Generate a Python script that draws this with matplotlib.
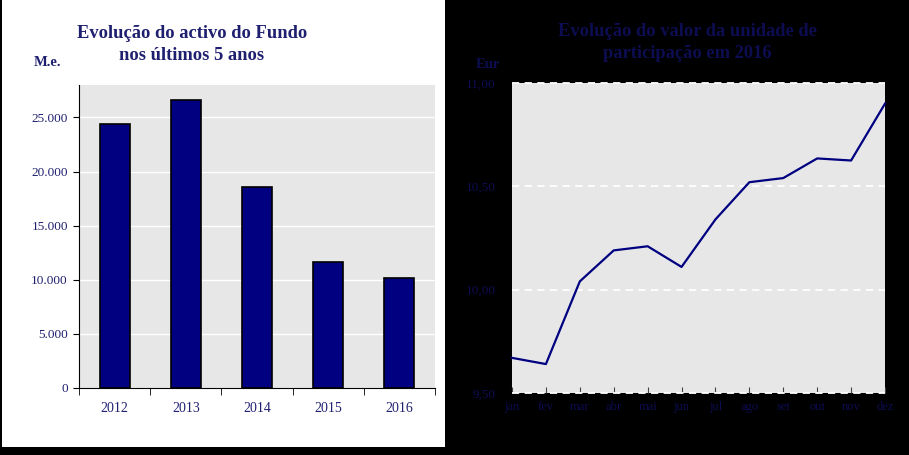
import matplotlib.pyplot as plt
import matplotlib.patches as mpatches
from matplotlib.ticker import FuncFormatter

plt.rcParams['font.family'] = ['Liberation Serif', 'DejaVu Serif']

# activo do fundo (milhares de euros)
anos = ['2012', '2013', '2014', '2015', '2016']
activo = [24400, 26650, 18600, 11600, 10150]

# valor da unidade de participação em 2016
meses = ['jan', 'fev', 'mar', 'abr', 'mai', 'jun', 'jul', 'ago', 'set', 'out', 'nov', 'dez']
valor_up = [9.67, 9.64, 10.04, 10.19, 10.21, 10.11, 10.34, 10.52, 10.54, 10.635, 10.625, 10.90]

navy = '#000080'
txt_left = '#1f1f70'
txt_right = '#0d0d52'

fig = plt.figure(figsize=(9.09, 4.55), dpi=100, facecolor='black')
# painel branco da esquerda
fig.patches.append(mpatches.Rectangle((2 / 909, 8 / 455), 443 / 909, 447 / 455,
                                      transform=fig.transFigure, facecolor='white',
                                      edgecolor='none', zorder=-5))

# ---- grafico de barras ----
ax1 = fig.add_axes([79 / 909, 67 / 455, 356 / 909, 303 / 455])
ax1.set_facecolor('#e7e7e7')
x = range(len(anos))
ax1.bar(x, activo, width=0.42, color=navy, edgecolor='black', linewidth=1.2, zorder=3)
ax1.set_xlim(-0.5, len(anos) - 0.5)
ax1.set_ylim(0, 28000)
ax1.set_yticks(range(0, 25001, 5000))
ax1.yaxis.set_major_formatter(FuncFormatter(lambda v, p: f"{int(v):,}".replace(',', '.')))
ax1.set_xticks(list(x))
ax1.set_xticklabels(anos)
ax1.set_xticks([i - 0.5 for i in range(len(anos) + 1)], minor=True)
ax1.tick_params(axis='x', which='major', length=0, pad=10, labelsize=10, labelcolor=txt_left)
ax1.tick_params(axis='x', which='minor', length=5, direction='out', color='black')
ax1.tick_params(axis='y', length=4, direction='out', labelsize=9.5, labelcolor=txt_left, pad=4)
ax1.grid(axis='y', color='white', linewidth=1, zorder=1)
for s in ['top', 'right']:
    ax1.spines[s].set_visible(False)
ax1.spines['left'].set_color('black')
ax1.spines['bottom'].set_color('black')

fig.text(192 / 909, 1 - 33 / 455, 'Evolução do activo do Fundo', ha='center', va='center',
         fontsize=13.3, fontweight='bold', color=txt_left)
fig.text(192 / 909, 1 - 55 / 455, 'nos últimos 5 anos', ha='center', va='center',
         fontsize=13.3, fontweight='bold', color=txt_left)
fig.text(47 / 909, 1 - 62 / 455, 'M.e.', ha='center', va='center',
         fontsize=10.5, fontweight='bold', color=txt_left)

# ---- grafico de linha ----
ax2 = fig.add_axes([512 / 909, 62 / 455, 373 / 909, 310 / 455])
ax2.set_facecolor('#e7e7e7')
ax2.plot(range(len(meses)), valor_up, color=navy, linewidth=1.6, zorder=3, clip_on=False)
ax2.set_xlim(0, len(meses) - 1)
ax2.set_ylim(9.5, 11.0)
ax2.set_yticks([9.5, 10.0, 10.5, 11.0])
ax2.yaxis.set_major_formatter(FuncFormatter(lambda v, p: f"{v:.2f}".replace('.', ',')))
ax2.set_xticks(range(len(meses)))
ax2.set_xticklabels(meses)
ax2.grid(axis='y', color='white', linewidth=1.3, linestyle=(0, (4, 3)), zorder=1, clip_on=False)
for s in ax2.spines.values():
    s.set_visible(False)
ax2.tick_params(axis='x', length=4, direction='in', color='#444444', labelsize=9,
                labelcolor=txt_right, pad=6)
ax2.tick_params(axis='y', length=0, labelsize=9.5, labelcolor=txt_right, pad=12)

fig.text(687 / 909, 1 - 32 / 455, 'Evolução do valor da unidade de', ha='center', va='center',
         fontsize=13.3, fontweight='bold', color=txt_right)
fig.text(687 / 909, 1 - 53 / 455, 'participação em 2016', ha='center', va='center',
         fontsize=13.3, fontweight='bold', color=txt_right)
fig.text(488 / 909, 1 - 65 / 455, 'Eur', ha='center', va='center',
         fontsize=10.5, fontweight='bold', color=txt_right)

fig.savefig('out.png', dpi=100, facecolor='black')
